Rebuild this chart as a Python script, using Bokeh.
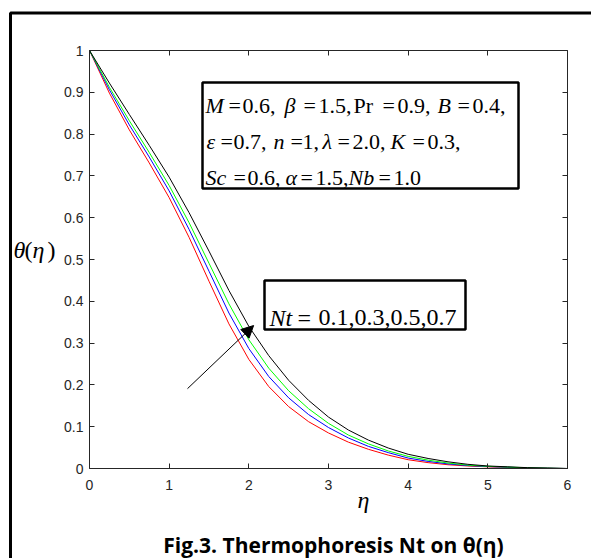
from bokeh.plotting import figure
from bokeh.models import (Range1d, LinearAxis, Label, BoxAnnotation, Arrow,
                          NormalHead, FixedTicker)
from bokeh.embed import file_html
from bokeh.resources import INLINE

# ---------------- data ----------------
eta = [0.0, 0.25, 0.5, 0.75, 1.0, 1.25, 1.5, 1.75, 2.0, 2.25, 2.5, 2.75, 3.0,
       3.25, 3.5, 3.75, 4.0, 4.25, 4.5, 4.75, 5.0, 5.25, 5.5, 5.75, 6.0]
theta_nt01 = [1.0, 0.898, 0.810, 0.731, 0.648, 0.553, 0.448, 0.346, 0.261, 0.196,
              0.148, 0.112, 0.085, 0.063, 0.046, 0.032, 0.021, 0.014, 0.009,
              0.006, 0.004, 0.0025, 0.0012, 0.0005, 0.0]
theta_nt03 = [1.0, 0.906, 0.822, 0.745, 0.664, 0.572, 0.472, 0.372, 0.287, 0.220,
              0.169, 0.129, 0.098, 0.073, 0.053, 0.038, 0.025, 0.017, 0.011,
              0.007, 0.0047, 0.003, 0.0015, 0.0007, 0.0]
theta_nt05 = [1.0, 0.912, 0.832, 0.756, 0.677, 0.588, 0.491, 0.394, 0.308, 0.240,
              0.186, 0.143, 0.108, 0.080, 0.059, 0.042, 0.029, 0.020, 0.013,
              0.008, 0.0052, 0.0034, 0.0017, 0.0008, 0.0]
theta_nt07 = [1.0, 0.922, 0.847, 0.773, 0.697, 0.612, 0.520, 0.426, 0.340, 0.270,
              0.211, 0.163, 0.123, 0.092, 0.068, 0.049, 0.034, 0.024, 0.016,
              0.010, 0.006, 0.004, 0.002, 0.001, 0.0]
series = [theta_nt01, theta_nt03, theta_nt05, theta_nt07]
series_colors = ["#ff0000", "#0000ff", "#00ff00", "#000000"]

x_ticks = [0, 1, 2, 3, 4, 5, 6]
y_ticks = [0, 0.1, 0.2, 0.3, 0.4, 0.5, 0.6, 0.7, 0.8, 0.9, 1]
y_tick_labels = ["0", "0.1", "0.2", "0.3", "0.4", "0.5", "0.6", "0.7", "0.8", "0.9", "1"]

caption = "Fig.3. Thermophoresis Nt on \u03b8(\u03b7)"

# ---------------- layout ----------------
W, H = 591, 558
FL, FR, FT, FB = 89, 567, 50, 468   # axes box edges in pixels
XMAX, YMAX = 6.0, 1.0


def px2x(px):
    return (px - FL) / (FR - FL) * XMAX


def py2y(py):
    return (FB - py) / (FB - FT) * YMAX


AX = "#262626"

p = figure(width=W, height=H,
           x_range=Range1d(px2x(0), px2x(W)), y_range=Range1d(py2y(H), py2y(0)),
           output_backend="svg", toolbar_location=None,
           min_border=0, min_border_left=0, min_border_right=0,
           min_border_top=0, min_border_bottom=0)
p.background_fill_color = "white"
p.border_fill_color = "white"
p.outline_line_color = None
p.xgrid.visible = False
p.ygrid.visible = False


def style_axis(ax, ticks, bounds, loc, labels=True, overrides=None):
    ax.ticker = FixedTicker(ticks=ticks)
    ax.bounds = bounds
    ax.fixed_location = loc
    ax.axis_line_color = AX
    ax.major_tick_line_color = AX
    ax.major_tick_in = 5
    ax.major_tick_out = 0
    ax.minor_tick_line_color = None
    ax.major_label_text_font = "Liberation Sans"
    ax.major_label_text_font_size = "14px"
    ax.major_label_text_color = AX
    if not labels:
        ax.major_label_overrides = {t: "" for t in ticks}
    elif overrides:
        ax.major_label_overrides = overrides


style_axis(p.xaxis[0], x_ticks, (0, XMAX), 0)
p.xaxis[0].major_label_standoff = 11
style_axis(p.yaxis[0], y_ticks, (0, YMAX), 0,
           overrides={t: l for t, l in zip(y_ticks, y_tick_labels)})
p.yaxis[0].major_label_standoff = 6

top_ax = LinearAxis()
style_axis(top_ax, x_ticks, (0, XMAX), YMAX, labels=False)
p.add_layout(top_ax, "above")
right_ax = LinearAxis()
style_axis(right_ax, y_ticks, (0, YMAX), XMAX, labels=False)
p.add_layout(right_ax, "right")

# curves
for vals, col in zip(series, series_colors):
    p.line(eta, vals, line_color=col, line_width=1)

# outer frame of the figure
p.add_layout(BoxAnnotation(left=px2x(10), right=px2x(640), top=py2y(12.5), bottom=py2y(620),
                           fill_alpha=0, line_color="black", line_alpha=1, line_width=3))

# parameter boxes
for l, r, t, b in [(202, 518, 82, 188), (264, 465, 280, 329)]:
    p.add_layout(BoxAnnotation(left=px2x(l), right=px2x(r), top=py2y(t), bottom=py2y(b),
                               fill_color="white", fill_alpha=1,
                               line_color="black", line_alpha=1, line_width=2.5))


def add_segments(segs, baseline_py, size):
    for text, px, italic in segs:
        p.add_layout(Label(x=px2x(px), y=py2y(baseline_py), text=text,
                           text_font="Liberation Serif",
                           text_font_style="italic" if italic else "normal",
                           text_font_size=f"{size}px", text_baseline="alphabetic",
                           text_align="left", text_color="black"))


add_segments([("M", 205, True), ("=", 228, False), ("0.6,", 242, False),
              ("\u03b2", 284, True), ("=", 303, False), ("1.5,", 318, False),
              ("Pr", 353, False), ("=", 382, False), ("0.9,", 397, False),
              ("B", 437, True), ("=", 457, False), ("0.4,", 472, False)], 105, 22)
add_segments([("\u03b5", 206, True), ("=", 220, False), ("0.7,", 233, False),
              ("n", 273, True), ("=", 290, False), ("1,", 302, False),
              ("\u03bb", 322, True), ("=", 337, False), ("2.0,", 352, False),
              ("K", 390, True), ("=", 412, False), ("0.3,", 427, False)], 141, 22)
add_segments([("Sc", 205, True), ("=", 233, False), ("0.6,", 247, False),
              ("\u03b1", 285, True), ("=", 300, False), ("1.5,", 315, False),
              ("Nb", 348, True), ("=", 378, False), ("1.0", 393, False)], 177, 22)
add_segments([("Nt", 269, True), ("=", 297, False), ("0.1,0.3,0.5,0.7", 318, False)], 317, 24)

# axis titles
add_segments([("\u03b8", 13, True), ("(", 24, False), ("\u03b7", 32, True), (")", 47, False)], 249, 24)
add_segments([("\u03b7", 357, True)], 499, 24)

# arrow
p.add_layout(Arrow(end=NormalHead(size=12, fill_color="black", line_color="black"),
                   x_start=1.23, y_start=0.191, x_end=2.06, y_end=0.342,
                   line_color="black", line_width=1))

# caption
p.add_layout(Label(x=px2x(333), y=py2y(544), text=caption, text_align="center",
                   text_baseline="alphabetic", text_font="Open Sans",
                   text_font_style="bold", text_font_size="21px", text_color="black"))

open("out.html", "w").write(file_html(p, INLINE))
